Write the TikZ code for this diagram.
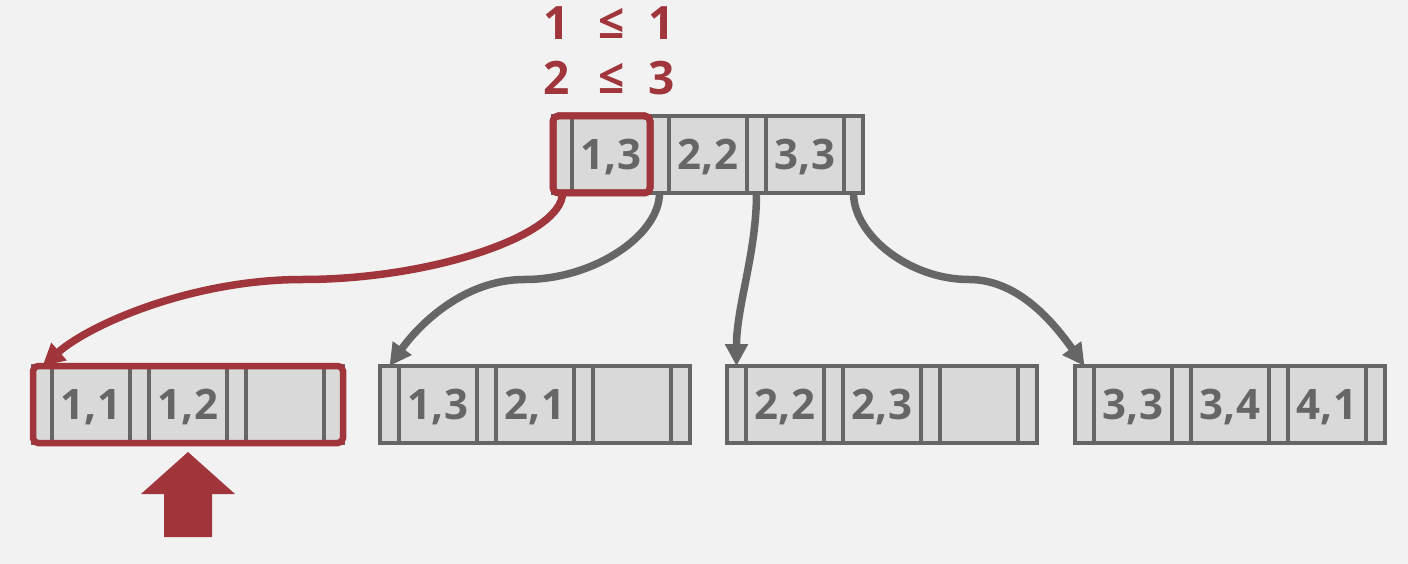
\documentclass[tikz,border=0pt]{standalone}
\usepackage{fontspec}
\setmainfont{Open Sans}
\usepackage{xcolor}
\usepackage{tikz}
\usetikzlibrary{positioning,fit,arrows.meta,calc}

\definecolor{bgcolor}{HTML}{F2F2F2}
\definecolor{cellfill}{HTML}{D9D9D9}
\definecolor{cellline}{HTML}{666666}
\definecolor{hlred}{HTML}{A0353B}

\tikzset{
  ptrcell/.style={draw=cellline, fill=cellfill, line width=4pt, inner sep=0pt, outer sep=0pt,
    minimum width=19pt, minimum height=77pt},
  keycell/.style={ptrcell, minimum width=78pt, text=cellline, text depth=0pt,
    font=\fontsize{42}{42}\selectfont\bfseries},
  hlbox/.style={draw=hlred, line width=6.5pt, rounded corners=5pt, inner sep=0pt},
  link/.style={draw=cellline, line width=7.5pt, -{Triangle[length=22pt,width=22pt]}},
  cmp/.style={text=hlred, inner sep=0pt, text depth=0pt, font=\fontsize{46}{46}\selectfont\bfseries},
}

% một nút của cây: tên, x, y, ba khoá
\newcommand{\btnode}[6]{%
  \node[ptrcell, anchor=north west] (#1-p0) at (#2,#3) {};
  \node[keycell, right=0pt of #1-p0] (#1-k1) {#4};
  \node[ptrcell, right=0pt of #1-k1] (#1-p1) {};
  \node[keycell, right=0pt of #1-p1] (#1-k2) {#5};
  \node[ptrcell, right=0pt of #1-k2] (#1-p2) {};
  \node[keycell, right=0pt of #1-p2] (#1-k3) {#6};
  \node[ptrcell, right=0pt of #1-k3] (#1-p3) {};
}

\begin{document}
\begin{tikzpicture}[x=1pt,y=1pt]
  \useasboundingbox (0,0) rectangle (1408,-564);
  \fill[bgcolor] (0,0) rectangle (1408,-564);
  % Vẽ phép so sánh
  \foreach \a/\b/\y in {1/1/-23, 2/3/-78} {
    \node[cmp] (lhs\a) at (557,\y) {\a};
    \node[cmp] (le\a) at (612,\y) {≤};
    \node[cmp] (rhs\a) at (662,\y) {\b};
  }
  % Vẽ nút gốc
  \btnode{root}{553}{-116}{1,3}{2,2}{3,3}
  % Vẽ các nút lá
  \foreach \n/\x/\a/\b/\c in {A/33/{1,1}/{1,2}/{}, B/380/{1,3}/{2,1}/{},
      C/727/{2,2}/{2,3}/{}, D/1075/{3,3}/{3,4}/{4,1}}
    \btnode{leaf\n}{\x}{-366}{\a}{\b}{\c}
  % Vẽ khung đỏ
  \node[hlbox, fit=(root-p0)(root-k1)] (rootsel) {};
  \node[hlbox, fit=(leafA-p0)(leafA-p3)] (leafsel) {};
  % Vẽ mũi tên
  \draw[link, draw=hlred] (root-p0.south) .. controls +(0,-42) and +(130,0)
    .. ($(root-p0.south)!0.5!(leafA-p0.north)$) .. controls +(-110,0) and +(48,42) .. (leafA-p0.north);
  \draw[link] (root-p1.south) .. controls +(0,-42) and +(70,0)
    .. ($(root-p1.south)!0.5!(leafB-p0.north)$) .. controls +(-60,0) and +(30,42) .. (leafB-p0.north);
  \draw[link] (root-p2.south) .. controls +(0,-60) and +(0,60) .. (leafC-p0.north);
  \draw[link] (root-p3.south) .. controls +(0,-42) and +(-60,0)
    .. ($(root-p3.south)!0.5!(leafD-p0.north)$) .. controls +(50,0) and +(-30,42) .. (leafD-p0.north);
  \fill[hlred] ([yshift=-9pt]leafA-k2.south) -- ++(47,-42) -- ++(-23,0) -- ++(0,-43)
    -- ++(-48,0) -- ++(0,43) -- ++(-23,0) -- cycle;
\end{tikzpicture}
\end{document}
